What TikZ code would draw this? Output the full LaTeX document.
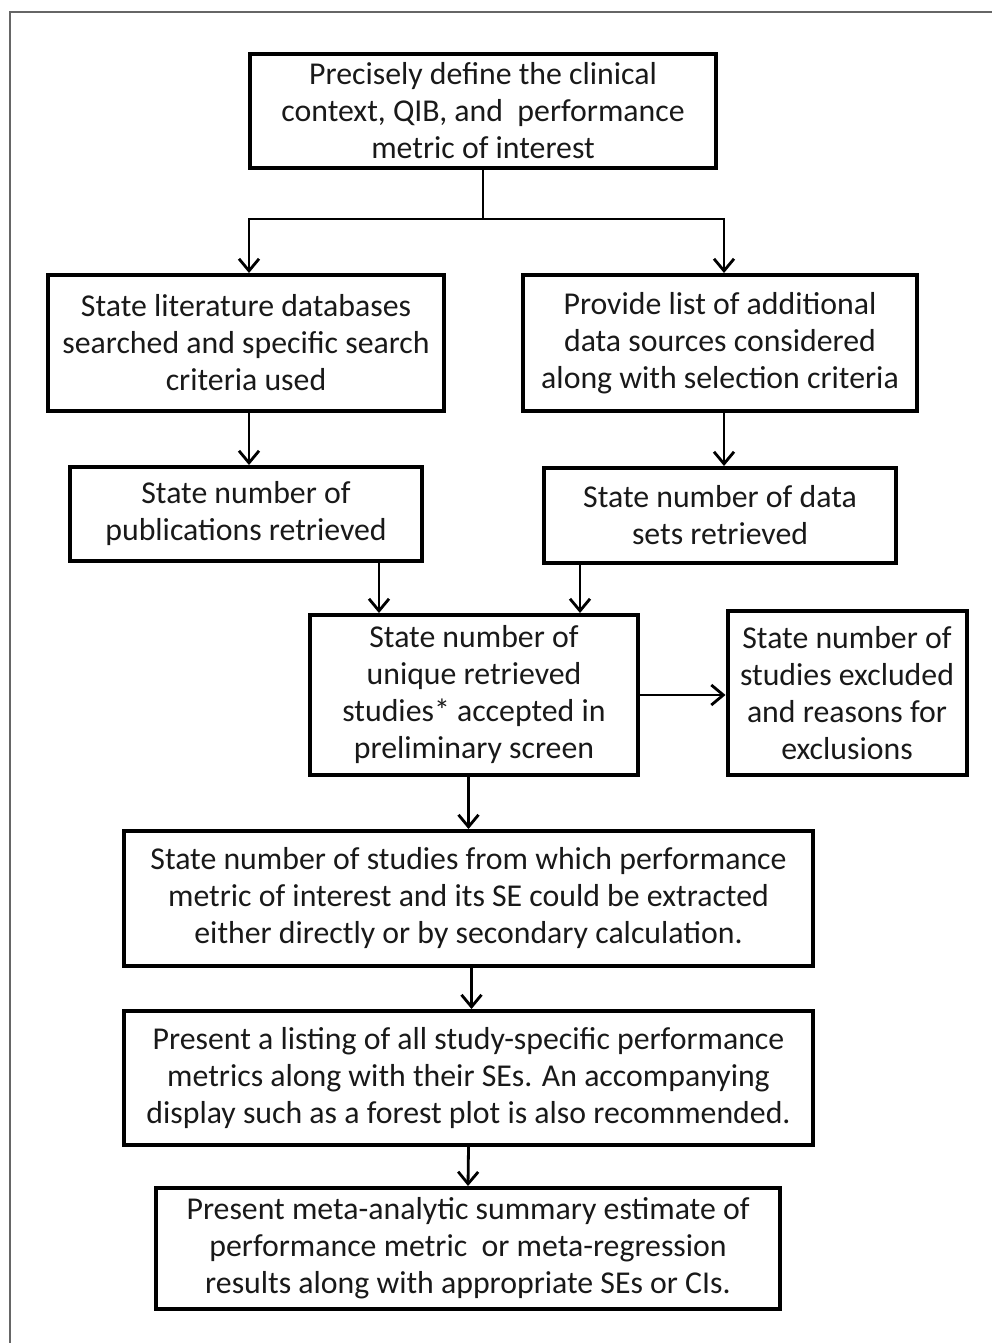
\documentclass[tikz,border=0pt]{standalone}
\usepackage{fontspec}
\setmainfont{Carlito}
\usetikzlibrary{arrows.meta,calc}

\tikzset{
    box/.style={draw, line width=2pt, align=center, inner sep=2pt,
        font=\fontsize{15.9pt}{18.5pt}\selectfont, text=black!90},
    link/.style={line width=1.4pt, -{Straight Barb[length=6pt,width=10pt,line width=1.4pt]}},
}

\begin{document}
\begin{tikzpicture}[x=0.5pt, y=-0.5pt]
            \useasboundingbox (0,0) rectangle (992,1343);
            \draw[gray!80!black, line width=1.2pt] (10,1343) |- (992,12);

            \node[box, minimum width=233pt, minimum height=57pt] (top) at (483,111)
                {Precisely define the clinical\\ context, QIB, and\ \ performance\\ metric of interest};
            \node[box, minimum width=198pt, minimum height=68pt] (lit) at (246,343)
                {State literature databases\\ searched and specific search\\ criteria used};
            \node[box, minimum width=197pt, minimum height=68pt] (prov) at (720,343)
                {Provide list of additional\\ data sources considered\\ along with selection criteria};
            \node[box, minimum width=176pt, minimum height=47pt] (pubs) at (246,514)
                {State number of\\ publications retrieved};
            \node[box, minimum width=176pt, minimum height=47.5pt] (data) at (720,515.5)
                {State number of data\\ sets retrieved};
            \node[box, minimum width=164pt, minimum height=80pt] (unique) at (474,695)
                {State number of\\ unique retrieved\\ studies* accepted in\\ preliminary screen};
            \node[box, minimum width=119.5pt, minimum height=82pt] (excl) at (847,693)
                {State number of\\ studies excluded\\ and reasons for\\ exclusions};
            \node[box, minimum width=344.5pt, minimum height=67.5pt] (extract) at (468.5,898.5)
                {State number of studies from which performance\\ metric of interest and its SE could be extracted\\ either directly or by secondary calculation.};
            \node[box, minimum width=344.5pt, minimum height=67pt] (listing) at (468.5,1078)
                {Present a listing of all study-specific performance\\ metrics along with their SEs.  An accompanying\\ display such as a forest plot is also recommended.};
            \node[box, minimum width=312pt, minimum height=60.5pt] (summary) at (468,1248.5)
                {Present meta-analytic summary estimate of\\ performance metric\ \ or meta-regression\\ results along with appropriate SEs or CIs.};

            \coordinate (split) at (483,219);
            \draw[line width=1.4pt] (top.south) -- (split);
            \draw[link] (split) -| ([xshift=1.5pt]lit.north);
            \draw[link] (split) -| ([xshift=2pt]prov.north);
            \draw[link] ([xshift=1.5pt]lit.south) -- ([xshift=1.5pt]lit.south |- pubs.north);
            \draw[link] ([xshift=2pt]prov.south) -- ([xshift=2pt]prov.south |- data.north);
            \draw[link] ([xshift=-22.5pt]pubs.south east) -- ([xshift=-22.5pt]pubs.south east |- unique.north);
            \draw[link] ([xshift=19pt]data.south west) -- ([xshift=19pt]data.south west |- unique.north);
            \draw[link] (unique.east) -- (unique.east -| excl.west);
            \draw[link] (unique.south -| extract.north) -- (extract.north);
            \draw[link] ([xshift=1.5pt]extract.south) -- ([xshift=1.5pt]listing.north);
            \draw[link] (listing.south) -- (summary.north);
        \end{tikzpicture}
\end{document}
